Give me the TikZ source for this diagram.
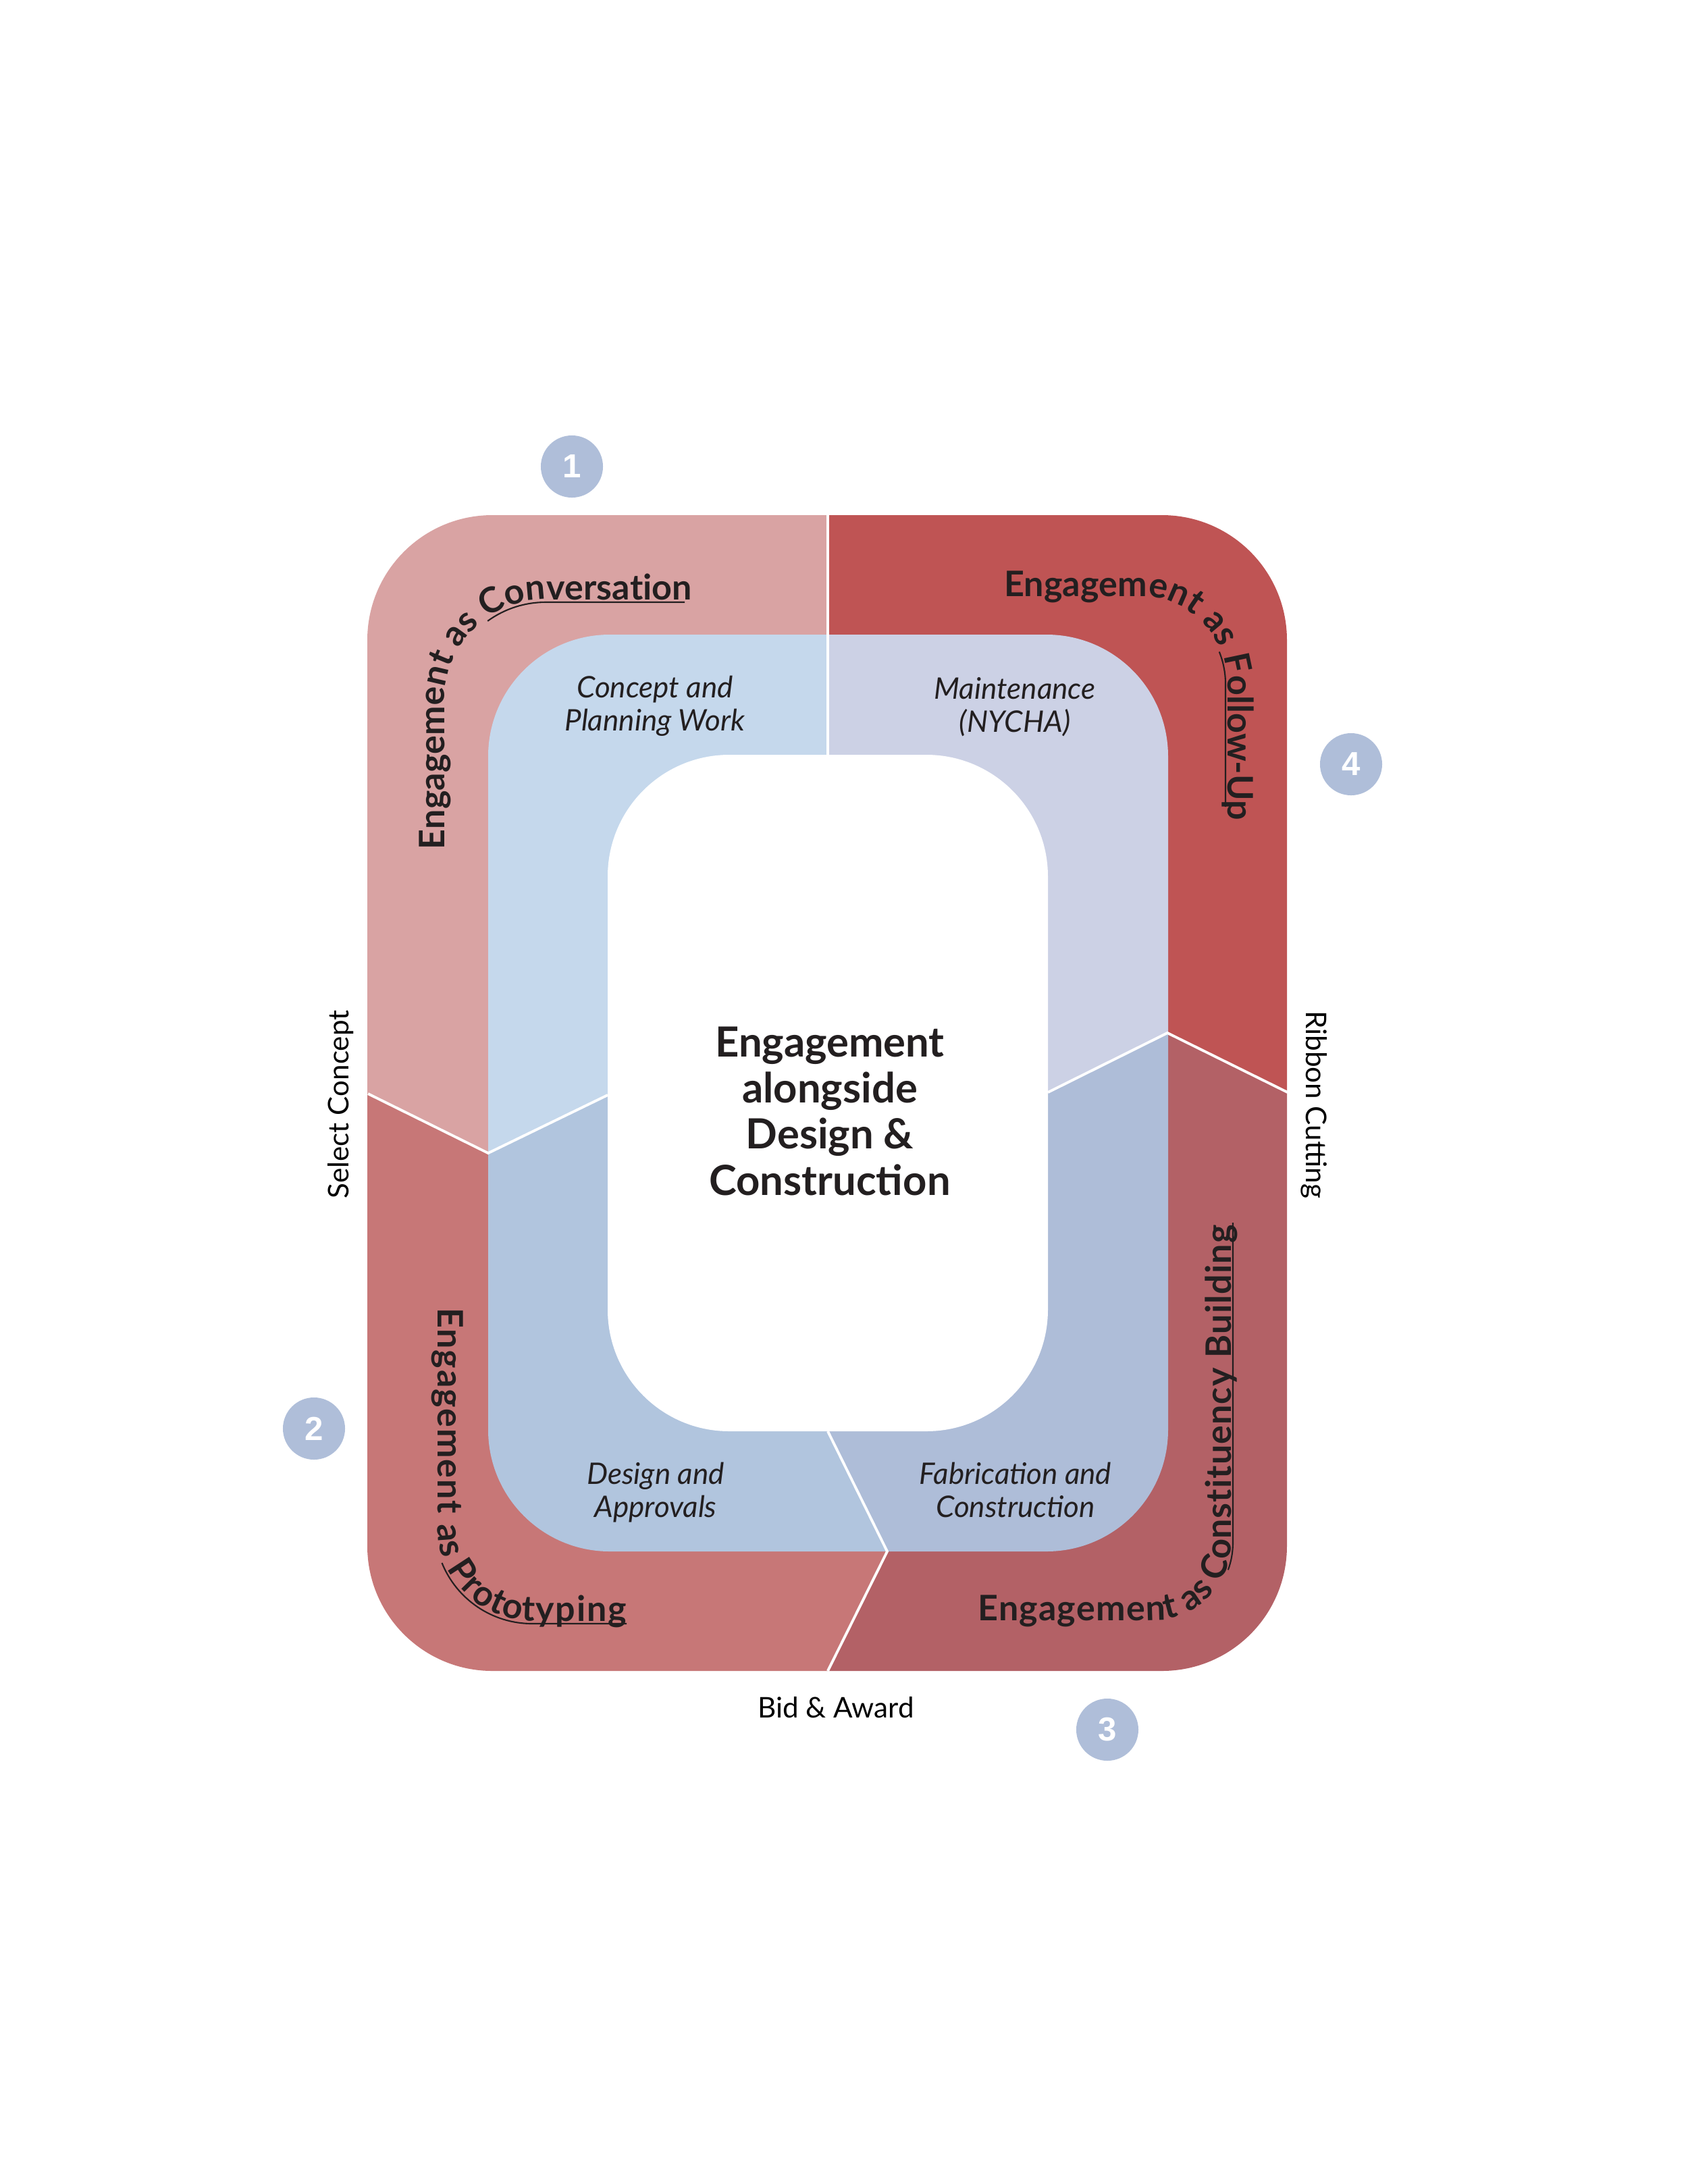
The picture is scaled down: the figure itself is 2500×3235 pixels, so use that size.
\documentclass[tikz,border=0pt]{standalone}
\usepackage{fontspec}
\setmainfont{Lato}
\newfontfamily\numfont{Liberation Sans}
\usetikzlibrary{decorations.text}

\definecolor{convpink}{HTML}{D9A3A3}
\definecolor{followred}{HTML}{BF5454}
\definecolor{protored}{HTML}{C77777}
\definecolor{constred}{HTML}{B36166}
\definecolor{conceptblue}{HTML}{C5D8EC}
\definecolor{maintblue}{HTML}{CCD1E5}
\definecolor{designblue}{HTML}{B1C5DE}
\definecolor{fabblue}{HTML}{AEBDD8}
\definecolor{numblue}{HTML}{AFBED9}
\definecolor{ink}{HTML}{231F20}

\newcommand{\ringfont}{\fontsize{14.8pt}{17pt}\selectfont\bfseries}

\begin{document}
\begin{tikzpicture}[x=0.01cm,y=0.01cm,
  phase node/.style={align=center,anchor=base,text=ink,font=\fontsize{12.5pt}{13.9pt}\selectfont\itshape},
  num node/.style={circle,fill=numblue,minimum size=0.92cm,inner sep=0pt,text=white,font=\numfont\fontsize{14pt}{14pt}\selectfont\bfseries},
  gate node/.style={text=black,font=\fontsize{12pt}{14pt}\selectfont},
  cut/.style={white,line width=1.1pt},
  uline/.style={ink,line width=0.6pt},
  ring text/.style={decorate,decoration={text along path,text align=fit to path,text color=ink}}]

\useasboundingbox (0,0) rectangle (2500,-3235);

% split points of the rings
\coordinate (mid) at (1226,-1619);
\coordinate (topO) at (1226,-763);
\coordinate (topI) at (1226,-1118);
\coordinate (lftO) at (545,-1620);
\coordinate (lftM) at (723,-1708);
\coordinate (lftI) at (900,-1622);
\coordinate (rgtI) at (1552,-1618);
\coordinate (rgtM) at (1729,-1530);
\coordinate (rgtO) at (1907,-1618);
\coordinate (botI) at (1226,-2120);
\coordinate (botM) at (1314,-2298);
\coordinate (botO) at (1226,-2475);

% outer ring
\begin{scope}
\clip (0,0) -- (1226,0) -- (mid) -- (lftM) -- (lftO) -- (0,-1620) -- cycle;
\fill[convpink,rounded corners=1.85cm] (544,-763) rectangle (1906,-2475);
\end{scope}
\begin{scope}
\clip (1226,0) -- (2500,0) -- (2500,-1618) -- (rgtO) -- (rgtM) -- (mid) -- cycle;
\fill[followred,rounded corners=1.85cm] (544,-763) rectangle (1906,-2475);
\end{scope}
\begin{scope}
\clip (0,-1620) -- (lftO) -- (lftM) -- (mid) -- (botM) -- (botO) -- (1226,-3235) -- (0,-3235) -- cycle;
\fill[protored,rounded corners=1.85cm] (544,-763) rectangle (1906,-2475);
\end{scope}
\begin{scope}
\clip (2500,-1618) -- (rgtO) -- (rgtM) -- (mid) -- (botM) -- (botO) -- (1226,-3235) -- (2500,-3235) -- cycle;
\fill[constred,rounded corners=1.85cm] (544,-763) rectangle (1906,-2475);
\end{scope}

% middle ring
\begin{scope}
\clip (0,0) -- (1226,0) -- (mid) -- (lftI) -- (lftM) -- (0,-1708) -- cycle;
\fill[conceptblue,rounded corners=1.8cm] (723,-940) rectangle (1730,-2298);
\end{scope}
\begin{scope}
\clip (1226,0) -- (2500,0) -- (2500,-1530) -- (rgtM) -- (rgtI) -- (mid) -- cycle;
\fill[maintblue,rounded corners=1.8cm] (723,-940) rectangle (1730,-2298);
\end{scope}
\begin{scope}
\clip (0,-1708) -- (lftM) -- (lftI) -- (mid) -- (botI) -- (botM) -- (1314,-3235) -- (0,-3235) -- cycle;
\fill[designblue,rounded corners=1.8cm] (723,-940) rectangle (1730,-2298);
\end{scope}
\begin{scope}
\clip (2500,-1530) -- (rgtM) -- (rgtI) -- (mid) -- (botI) -- (botM) -- (1314,-3235) -- (2500,-3235) -- cycle;
\fill[fabblue,rounded corners=1.8cm] (723,-940) rectangle (1730,-2298);
\end{scope}

% centre
\fill[white,rounded corners=1.8cm] (900,-1118) rectangle (1552,-2120);

\draw[cut] (topO) -- (topI);
\draw[cut] (lftO) -- (lftM) -- (lftI);
\draw[cut] (rgtI) -- (rgtM) -- (rgtO);
\draw[cut] (botI) -- (botM) -- (botO);

% ring titles
\coordinate (tlc) at (808,-1038);
\coordinate (trc) at (1688,-1013);
\coordinate (blc) at (788,-2261);
\coordinate (brc) at (1708,-2285);

\path[ring text,decoration={text={|\ringfont|Engagement as Conversation}}]
  (658,-1258) -- (658,-1038) arc[start angle=180,end angle=90,radius=150] -- (1012,-888);
\draw[uline] ([shift={(126:146)}]tlc) arc[start angle=126,end angle=90,radius=146] -- (1014,-892);

\path[ring text,decoration={text={|\ringfont|Engagement as Follow-Up}}]
  (1487,-883) -- (1688,-883) arc[start angle=90,end angle=0,radius=130] -- (1818,-1206);
\draw[uline] ([shift={(22:127)}]trc) arc[start angle=22,end angle=0,radius=127] -- (1815,-1195);

\path[ring text,decoration={text={|\ringfont|Engagement as Prototyping}}]
  (648,-1937) -- (648,-2261) arc[start angle=180,end angle=270,radius=140] -- (928,-2401);
\draw[uline] ([shift={(202:144)}]blc) arc[start angle=202,end angle=270,radius=144] -- (928,-2405);

\path[ring text,decoration={text={|\ringfont|Engagement as Constituency Building}}]
  (1448,-2400) -- (1708,-2400) arc[start angle=270,end angle=360,radius=115] -- (1823,-1814);
\draw[uline] ([shift={(340:118)}]brc) arc[start angle=340,end angle=360,radius=118] -- (1826,-1811);

% phases
\node[phase node] (concept) at (970,-1082) {Concept and\\Planning Work};
\node[phase node] (maint) at (1503,-1084) {Maintenance\\(NYCHA)};
\node[phase node] (design) at (971,-2247) {Design and\\Approvals};
\node[phase node] (fab) at (1504,-2247) {Fabrication and\\Construction};

\node[align=center,anchor=base,text=ink,font=\fontsize{17.5pt}{19.35pt}\selectfont\bfseries] (core) at (1229,-1770)
  {Engagement\\alongside\\Design \&\\Construction};

% gates
\node[gate node,rotate=90] (select) at (505,-1636) {Select Concept};
\node[gate node,rotate=-90] (ribbon) at (1946,-1636) {Ribbon Cutting};
\node[gate node,anchor=base] (bid) at (1238,-2544) {Bid \& Award};

% numbers
\node[num node] (n1) at (847,-691) {1};
\node[num node] (n2) at (465,-2116) {2};
\node[num node] (n3) at (1640,-2562) {3};
\node[num node] (n4) at (2001,-1132) {4};

\end{tikzpicture}
\end{document}
